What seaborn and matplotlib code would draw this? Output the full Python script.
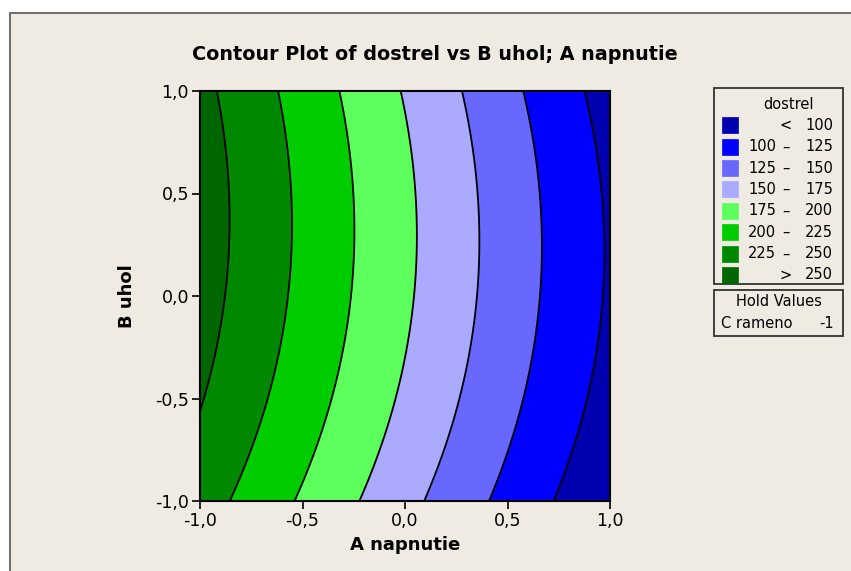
import numpy as np
import matplotlib
matplotlib.use("Agg")
import matplotlib.pyplot as plt
import seaborn as sns
from matplotlib.patches import Rectangle
from matplotlib.ticker import FuncFormatter

# ---- data (dostrel at grid of A napnutie x B uhol) ----
a_values = [-1.0, -0.5, 0.0, 0.5, 1.0]
b_values = [-1.0, -0.5, 0.0, 0.5, 1.0]
dostrel_b_m1 = [236.6, 197.0, 157.4, 117.9, 78.3]
dostrel_b_m05 = [251.4, 211.3, 171.2, 131.1, 91.0]
dostrel_b_0 = [259.9, 219.2, 178.6, 137.9, 97.2]
dostrel_b_05 = [261.8, 220.6, 179.3, 138.0, 96.8]
dostrel_b_1 = [256.8, 215.0, 173.2, 131.4, 89.5]

levels = [100, 125, 150, 175, 200, 225, 250]
colors = ['#0000B0', '#0000FF', '#6868FF', '#AAAAFF',
          '#5CFF5C', '#00CC00', '#008800', '#006600']
legend_left = ["", "100", "125", "150", "175", "200", "225", ""]
legend_mid = ["<", "\u2013", "\u2013", "\u2013", "\u2013", "\u2013", "\u2013", ">"]
legend_right = ["100", "125", "150", "175", "200", "225", "250", "250"]
x_ticks = [-1.0, -0.5, 0.0, 0.5, 1.0]
y_ticks = [-1.0, -0.5, 0.0, 0.5, 1.0]

# ---- response surface (quadratic fit, as Minitab does) ----
grid = np.array([dostrel_b_m1, dostrel_b_m05, dostrel_b_0, dostrel_b_05, dostrel_b_1])
AA, BB = np.meshgrid(a_values, b_values)
def design(a, b):
    return np.column_stack([np.ones_like(a), a, b, a * a, b * b, a * b])
coef, *_ = np.linalg.lstsq(design(AA.ravel(), BB.ravel()), grid.ravel(), rcond=None)
af = np.linspace(-1, 1, 301)
bf = np.linspace(-1, 1, 301)
AF, BF = np.meshgrid(af, bf)
Z = (design(AF.ravel(), BF.ravel()) @ coef).reshape(AF.shape)

# ---- figure ----
sns.set_style("ticks")
plt.rcParams['font.family'] = ['DejaVu Sans']
plt.rcParams['text.color'] = 'black'
plt.rcParams['axes.labelcolor'] = 'black'
W, H = 851, 571
fig = plt.figure(figsize=(W / 100, H / 100), dpi=100)
fig.patch.set_facecolor('white')
bg = '#EFEBE2'

def fx(x):
    return x / W
def fy(y):
    return 1 - y / H

fig.patches.append(Rectangle((fx(10), -0.05), 1.2, fy(13) + 0.05, transform=fig.transFigure,
                             facecolor=bg, edgecolor='#555555', linewidth=1.2, zorder=-5))

ax = fig.add_axes([fx(200), fy(501), fx(610) - fx(200), fy(91) - fy(501)])
ax.set_zorder(1)
ax.set_facecolor(bg)
fill_levels = [Z.min() - 10] + levels + [Z.max() + 10]
ax.contourf(AF, BF, Z, levels=fill_levels, colors=colors)
ax.contour(AF, BF, Z, levels=levels, colors='black', linewidths=1.3)
ax.set_xlim(-1, 1)
ax.set_ylim(-1, 1)
ax.set_xticks(x_ticks)
ax.set_yticks(y_ticks)
fmt = FuncFormatter(lambda v, p: f"{v:.1f}".replace('.', ',').replace('\u2212', '-'))
ax.xaxis.set_major_formatter(fmt)
ax.yaxis.set_major_formatter(fmt)
ax.tick_params(direction='out', length=6, width=1.2, labelsize=12.5, colors='black', pad=2)
for s in ax.spines.values():
    s.set_linewidth(1.5)
    s.set_color('black')
ax.set_xlabel("A napnutie", fontsize=13, fontweight='bold', labelpad=4, color='black')
ax.set_ylabel("B uhol", fontsize=13, fontweight='bold', labelpad=14, color='black')

fig.text(fx(435), fy(55), "Contour Plot of dostrel vs B uhol; A napnutie",
         ha='center', va='center', fontsize=13.8, fontweight='bold', color='black')

# ---- legend ----
fig.patches.append(Rectangle((fx(714), fy(284)), fx(843) - fx(714), fy(88) - fy(284),
                             transform=fig.transFigure, facecolor=bg,
                             edgecolor='#333333', linewidth=1.3, zorder=2))
fig.text(fx(788), fy(104), "dostrel", ha='center', va='center', fontsize=10.5, zorder=3)
row_y = [125, 147, 168, 189, 211, 232, 254, 275]
for i, yy in enumerate(row_y):
    fig.patches.append(Rectangle((fx(722), fy(yy + 8)), fx(16), 16 / H,
                                 transform=fig.transFigure, facecolor=colors[i],
                                 edgecolor=colors[i], linewidth=0.5, zorder=3))
    if legend_left[i]:
        fig.text(fx(776), fy(yy), legend_left[i], ha='right', va='center', fontsize=10.5, zorder=3)
    fig.text(fx(786), fy(yy), legend_mid[i], ha='center', va='center', fontsize=10.5, zorder=3)
    fig.text(fx(833), fy(yy), legend_right[i], ha='right', va='center', fontsize=10.5, zorder=3)

fig.patches.append(Rectangle((fx(714), fy(336)), fx(843) - fx(714), fy(290) - fy(336),
                             transform=fig.transFigure, facecolor=bg,
                             edgecolor='#333333', linewidth=1.3, zorder=2))
fig.text(fx(779), fy(302), "Hold Values", ha='center', va='center', fontsize=10.5, zorder=3)
fig.text(fx(721), fy(324), "C rameno", ha='left', va='center', fontsize=10.5, zorder=3)
fig.text(fx(834), fy(324), "-1", ha='right', va='center', fontsize=10.5, zorder=3)

fig.savefig("out.png", dpi=100, facecolor=fig.get_facecolor())
